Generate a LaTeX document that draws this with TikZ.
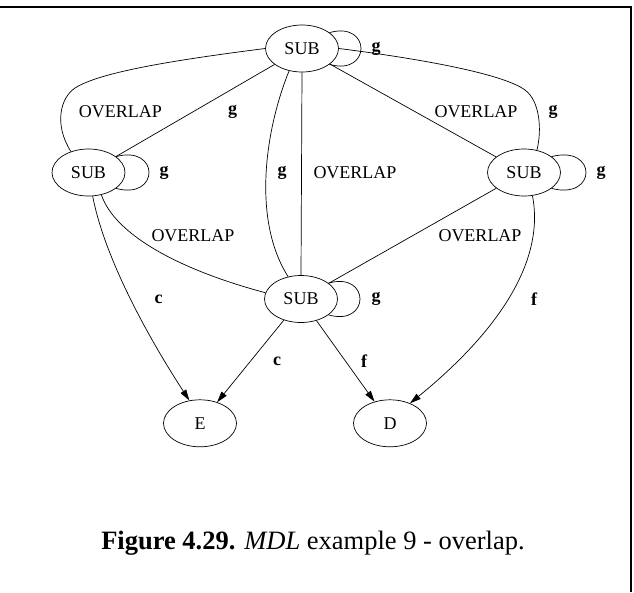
\documentclass[tikz,border=0pt]{standalone}
\usepackage{fontspec}
\setmainfont{Liberation Serif}
\usetikzlibrary{shapes.geometric,arrows.meta}
\begin{document}
\begin{tikzpicture}[x=1pt,y=-1pt,
  state/.style={ellipse,draw,line width=0.7pt,minimum width=73pt,minimum height=47pt,inner sep=0pt,font=\fontsize{18}{20}\selectfont},
  lbl/.style={font=\fontsize{18}{20}\selectfont,inner sep=0pt},
  blbl/.style={font=\fontsize{18}{20}\selectfont\bfseries,inner sep=0pt},
  edgeline/.style={draw,line width=0.7pt},
  arr/.style={edgeline,-{Triangle[length=11pt,width=6.5pt]}},
  loopline/.style={edgeline},
]
\useasboundingbox (0,0) rectangle (634,592);
% frame
\coordinate (f1) at (0,6.5);
\coordinate (f2) at (630.5,6.5);
\coordinate (f3) at (630.5,592);
\draw[line width=2pt] (f1) -- (f2) -- (f3);

% nodes
\node[state] (t) at (302,48.5) {SUB};
\node[state] (l) at (88.5,172.5) {SUB};
\node[state] (r) at (524,172.5) {SUB};
\node[state] (b) at (301,299) {SUB};
\node[state] (E) at (200,423.3) {E};
\node[state] (D) at (390,423.3) {D};

% self loops
\draw[loopline] (t.30) .. controls +(42,-12) and +(42,12) .. (t.-30);
\draw[loopline] (l.30) .. controls +(44,-12) and +(44,12) .. (l.-30);
\draw[loopline] (r.30) .. controls +(46,-12) and +(46,12) .. (r.-30);
\draw[loopline] (b.30) .. controls +(42,-12) and +(42,12) .. (b.-30);
\node[blbl] (gt) at (376,49) {g};
\node[blbl] (gl) at (164,173) {g};
\node[blbl] (gr) at (601,173) {g};
\node[blbl] (gb) at (376,299) {g};

% top <-> left
\draw[edgeline] (t.west) .. controls (175,60) and (100,72) .. (75,88)
   .. controls (60,98) and (54,125) .. (l.130);
\node[lbl] (o1) at (120.5,112) {OVERLAP};
\draw[edgeline] (t) -- (l);
\node[blbl] (g1) at (232.5,112) {g};

% top <-> bottom
\draw[edgeline] (t.240) .. controls (265,130) and (252,220) .. (b.120);
\node[blbl] (g2) at (282,173) {g};
\draw[edgeline] (t.south) -- (b.north);
\node[lbl] (o2) at (355,173) {OVERLAP};

% top <-> right
\draw[edgeline] (t) -- (r);
\node[lbl] (o3) at (476,112) {OVERLAP};
\draw[edgeline] (t.east) .. controls (430,60) and (505,75) .. (525,90)
   .. controls (540,101) and (542,130) .. (r.60);
\node[blbl] (g3) at (553,112) {g};

% left <-> bottom
\draw[edgeline] (l.-60) .. controls (115,235) and (180,270) .. (b.170);
\node[lbl] (o4) at (193,236) {OVERLAP};

% right <-> bottom
\draw[edgeline] (r) -- (b);
\node[lbl] (o5) at (480,236) {OVERLAP};

% arrows to E and D
\draw[arr] (l.-80) .. controls (105,260) and (150,340) .. (E.115);
\node[blbl] (c1) at (158.5,299) {c};
\draw[arr] (b) -- (E);
\node[blbl] (c2) at (277,361) {c};
\draw[arr] (b) -- (D);
\node[blbl] (f1l) at (364,361) {f};
\draw[arr] (r.-70) .. controls (545,260) and (500,330) .. (D.45);
\node[blbl] (f2l) at (534,299) {f};

% caption
\node[anchor=base,inner sep=0pt,font=\fontsize{26.5}{30}\selectfont] (cap) at (313,549.5)
  {\textbf{Figure 4.29.} \textit{MDL} example 9 - overlap.};
\end{tikzpicture}
\end{document}
